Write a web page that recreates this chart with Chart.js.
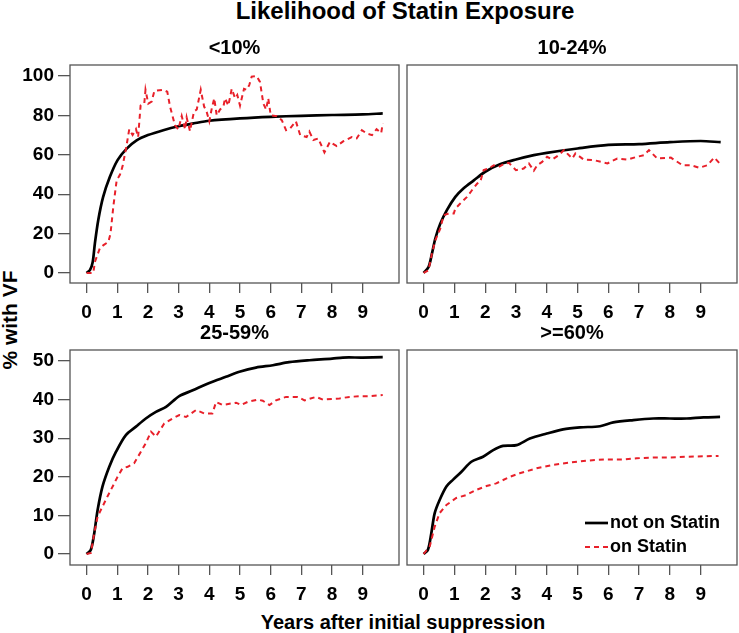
<!DOCTYPE html>
<html>
<head>
<meta charset="utf-8">
<script src="https://cdn.jsdelivr.net/npm/chart.js@4.4.1/dist/chart.umd.min.js"></script>
<style>
  html, body { margin: 0; padding: 0; background: #fff; }
  body { width: 739px; height: 633px; position: relative; overflow: hidden;
         font-family: "Liberation Sans", Arial, sans-serif; }
  canvas { position: absolute; }
  .lbl { position: absolute; font-weight: bold; color: #000; white-space: nowrap; }
</style>
</head>
<body>
<div class="lbl" id="mainTitle" style="left:405px; top:-3px; font-size:24px; line-height:27px; transform:translateX(-50%);">Likelihood of Statin Exposure</div>
<div class="lbl" id="yTitle" style="left:10px; top:320px; font-size:21px; line-height:24px; transform:translate(-50%,-50%) rotate(-90deg);">% with VF</div>
<div class="lbl" id="xTitle" style="left:403px; top:610px; font-size:20px; line-height:24px; transform:translateX(-50%);">Years after initial suppression</div>

<canvas id="p1" width="405" height="293" style="left:0; top:30px;"></canvas>
<canvas id="p2" width="339" height="293" style="left:400px; top:30px;"></canvas>
<canvas id="p3" width="405" height="285" style="left:0; top:320px;"></canvas>
<canvas id="p4" width="339" height="285" style="left:400px; top:320px;"></canvas>

<script>
// ---- data (years after suppression, % with VF) ----
const seriesNames = ['not on Statin', 'on Statin'];
const xTicks = [0, 1, 2, 3, 4, 5, 6, 7, 8, 9];
const yTicksTop = [0, 20, 40, 60, 80, 100];
const yTicksBottom = [0, 10, 20, 30, 40, 50];

// <10%
const lowNotX = [0, 0.11, 0.2, 0.27, 0.38, 0.54, 0.76, 1.01, 1.3, 1.63, 2.0, 2.5, 3.0, 3.5, 4.0, 5.0, 6.0, 7.0, 8.0, 9.0, 9.65];
const lowNotY = [0, 1.4, 5.6, 14.9, 26.8, 38.6, 48.8, 57.3, 63, 67.3, 70, 72.5, 74.5, 76, 77.3, 78.5, 79.3, 79.8, 80.2, 80.5, 81];
const lowOnX = [0, 0.22, 0.27, 0.43, 0.54, 0.71, 0.78, 0.87, 0.98, 1.09, 1.17, 1.28, 1.39, 1.5, 1.61, 1.68, 1.76, 1.88, 1.92, 2.01,
  2.12, 2.21, 2.5, 2.63, 2.72, 2.88, 2.99, 3.1, 3.21, 3.26, 3.37, 3.5, 3.59, 3.72, 3.83, 3.91, 4.0, 4.08, 4.16, 4.24,
  4.35, 4.46, 4.51, 4.62, 4.73, 4.84, 4.91, 5.0, 5.13, 5.22, 5.3, 5.38, 5.54, 5.65, 5.76, 5.85, 5.92, 6.0, 6.2, 6.36,
  6.5, 6.63, 6.82, 6.96, 7.17, 7.26, 7.39, 7.55, 7.75, 7.93, 8.15, 8.37, 8.64, 8.8, 8.97, 9.13, 9.3, 9.45, 9.6, 9.65];
const lowOnY = [0, 0, 5.6, 12.4, 14, 15.8, 20, 33.5, 47, 50, 54, 62.7, 72.9, 70, 73, 69, 85, 86, 93, 86,
  87, 92.5, 93, 92, 84.5, 75, 72.9, 79.7, 72.9, 79, 72, 82, 83, 93, 84.5, 82, 77, 83.6, 88.7, 80,
  83, 84.5, 88.7, 85, 93.5, 88.7, 90.4, 85, 93.5, 93, 95.4, 99.7, 100, 97, 86, 83, 88.7, 80, 79.6, 77.6,
  72.5, 73.4, 77, 70, 69, 71.8, 67.5, 68.3, 61.2, 66.6, 64.4, 66.9, 69, 68.3, 72.5, 70.8, 70, 73, 71, 76];

// 10-24%
const midLowNotX = [0, 0.16, 0.27, 0.38, 0.54, 0.76, 1.03, 1.3, 1.63, 2.0, 2.5, 3.0, 3.58, 4.0, 5.0, 6.0, 7.0, 8.0, 9.0, 9.65];
const midLowNotY = [0, 3, 9.8, 17.5, 25, 32, 38.6, 43, 47, 51.4, 55.3, 57.6, 59.8, 61, 63.2, 65, 65.4, 66.4, 67, 66.4];
const midLowOnX = [0, 0.16, 0.27, 0.38, 0.54, 0.65, 0.81, 0.98, 1.03, 1.19, 1.41, 1.57, 1.74, 1.84, 1.95, 2.11, 2.28, 2.44, 2.6, 2.77,
  3.0, 3.25, 3.42, 3.58, 3.69, 3.85, 4.01, 4.18, 4.39, 4.56, 4.66, 4.83, 4.93, 5.2, 5.53, 5.97, 6.29, 6.62, 6.94, 7.16,
  7.32, 7.59, 8.03, 8.41, 8.68, 8.95, 9.22, 9.44, 9.6];
const midLowOnY = [0, 1.4, 9.8, 16.6, 22.5, 29.3, 30.2, 30.2, 32.7, 35.3, 38.6, 42, 45.4, 46.3, 52.2, 53, 54.7, 53.9, 55.3, 55.9,
  52.2, 53, 55.6, 51.9, 54.7, 56.4, 59, 57.6, 59.8, 62.4, 60.7, 58.1, 60.7, 57.6, 57.3, 55.6, 58.1, 57.6, 59, 59.8,
  62.4, 58.1, 58.6, 54.7, 54.7, 53.4, 54.7, 58.6, 55.9];

// 25-59%
const midHighNotX = [0, 0.14, 0.25, 0.36, 0.52, 0.74, 0.96, 1.28, 1.61, 1.93, 2.26, 2.59, 3.02, 3.46, 4.0, 4.54, 4.98, 5.52, 6.07, 6.6, 7.26, 8.0, 8.35, 9.0, 9.65];
const midHighNotY = [0, 1.1, 5.4, 11.4, 17.5, 22.6, 26.5, 30.8, 33, 35.1, 36.8, 38.1, 40.9, 42.4, 44.3, 45.9, 47.2, 48.3, 48.9, 49.7, 50.2, 50.6, 50.9, 50.9, 51];
const midHighOnX = [0, 0.14, 0.25, 0.36, 0.52, 0.68, 0.85, 1.01, 1.17, 1.34, 1.55, 1.77, 1.93, 2.1, 2.26, 2.53, 2.8, 3.02, 3.24, 3.57,
  3.84, 4.1, 4.22, 4.43, 4.87, 5.03, 5.25, 5.58, 5.74, 5.96, 6.17, 6.5, 6.88, 7.1, 7.48, 7.7, 8.24, 8.57, 8.95, 9.2, 9.65];
const midHighOnY = [0, 0.3, 5.4, 9.7, 12.3, 14.9, 17.5, 20, 22.2, 22.6, 23.5, 26.5, 28.7, 31.7, 30.4, 33.8, 35.1, 36, 35.5, 37.3,
  36.4, 36.4, 39.4, 38.6, 39.2, 38.6, 39.4, 40, 39.7, 38.6, 39.8, 40.7, 40.7, 39.8, 40.7, 40, 40.3, 40.7, 40.9, 40.9, 41.2];

// >=60%
const highNotX = [0, 0.14, 0.25, 0.36, 0.52, 0.74, 0.95, 1.23, 1.55, 1.93, 2.26, 2.58, 3.02, 3.45, 4.0, 4.53, 5.08, 5.73, 6.16, 6.81, 7.46, 8.0, 8.55, 9.09, 9.63];
const highNotY = [0, 1.1, 5.4, 10.6, 14, 17.5, 19.2, 21.3, 23.9, 25.2, 26.9, 28, 28.2, 29.9, 31.2, 32.3, 32.8, 33.1, 34.1, 34.7, 35.1, 35.1, 35.1, 35.4, 35.5];
const highOnX = [0, 0.2, 0.36, 0.52, 0.74, 1.06, 1.39, 1.71, 2.04, 2.36, 2.8, 3.12, 3.67, 4.2, 4.75, 5.29, 5.94, 6.49, 6.92, 7.46, 8.0, 8.55, 9.58];
const highOnY = [0, 2, 7.1, 10.6, 12.7, 14.5, 15.3, 16.6, 17.6, 18.3, 20, 20.9, 22.2, 23.1, 23.7, 24.2, 24.5, 24.5, 24.8, 25, 25, 25.2, 25.4];

// ---- drawing ----
const FONT = '"Liberation Sans", Arial, sans-serif';
const AXIS_GREY = '#555555';
const RED = '#e8202a';

const pts = (xs, ys) => xs.map((x, i) => ({ x, y: ys[i] }));
const setTicks = vals => scale => { scale.ticks = vals.map(v => ({ value: v })); };

// box around each plotting region + optional legend
const framePlugin = {
  id: 'frame',
  afterDraw(chart, args, opts) {
    const { ctx, chartArea: a } = chart;
    ctx.save();
    ctx.strokeStyle = AXIS_GREY;
    ctx.lineWidth = 1.3;
    ctx.strokeRect(a.left, a.top, a.right - a.left, a.bottom - a.top);
    if (opts.legend) {
      const rows = [
        { ds: chart.data.datasets[0], dy: -42 },
        { ds: chart.data.datasets[1], dy: -18 },
      ];
      ctx.font = 'bold 18px ' + FONT;
      ctx.textBaseline = 'middle';
      for (const r of rows) {
        const y = a.bottom + r.dy;
        ctx.beginPath();
        ctx.strokeStyle = r.ds.borderColor;
        ctx.lineWidth = r.ds.borderWidth;
        ctx.setLineDash(r.ds.borderDash || []);
        ctx.moveTo(a.right - 152, y);
        ctx.lineTo(a.right - 129, y);
        ctx.stroke();
        ctx.setLineDash([]);
        ctx.fillStyle = '#000';
        ctx.fillText(r.ds.label, a.right - 127, y);
      }
    }
    ctx.restore();
  }
};

function makePanel(id, title, notX, notY, onX, onY, o) {
  new Chart(document.getElementById(id), {
    type: 'line',
    data: {
      datasets: [
        {
          label: seriesNames[0],
          data: pts(notX, notY),
          borderColor: '#000',
          borderWidth: 2.7,
          pointRadius: 0,
          tension: 0.3,
          order: 1,
        },
        {
          label: seriesNames[1],
          data: pts(onX, onY),
          borderColor: RED,
          borderWidth: 2,
          borderDash: [5, 4],
          pointRadius: 0,
          tension: 0,
          order: 0,
        },
      ],
    },
    options: {
      responsive: false,
      animation: false,
      devicePixelRatio: 1,
      layout: { padding: o.padding },
      plugins: {
        legend: { display: false },
        tooltip: { enabled: false },
        title: {
          display: true,
          text: title,
          fullSize: false,
          color: '#000',
          font: { family: FONT, size: 20, weight: 'bold', lineHeight: 1.2 },
          padding: o.titlePad,
        },
        frame: { legend: !!o.legend },
      },
      scales: {
        x: {
          type: 'linear',
          min: -0.54,
          max: 10.18,
          afterBuildTicks: setTicks(xTicks),
          afterFit: s => { s.height = 40; },
          grid: { drawOnChartArea: false, drawTicks: true, tickLength: 10, color: AXIS_GREY, lineWidth: 1.3 },
          border: { display: false },
          ticks: { color: '#000', padding: 8, maxRotation: 0, autoSkip: false,
                   font: { family: FONT, size: 19, weight: 'bold' } },
        },
        y: {
          type: 'linear',
          min: o.yMin,
          max: o.yMax,
          afterBuildTicks: setTicks(o.yTicks),
          afterFit: s => { s.width = o.yWidth; },
          grid: { drawOnChartArea: false, drawTicks: o.showY, tickLength: 12, color: AXIS_GREY, lineWidth: 1.3 },
          border: { display: false },
          ticks: { display: o.showY, color: '#000', padding: 4, autoSkip: false,
                   font: { family: FONT, size: 19, weight: 'bold' } },
        },
      },
    },
    plugins: [framePlugin],
  });
}

const topY = { yMin: -5.1, yMax: 105.6, yTicks: yTicksTop };
const botY = { yMin: -2.85, yMax: 52.85, yTicks: yTicksBottom };
const leftCol = { showY: true, yWidth: 70, padding: { left: 0, right: 6 } };
const rightCol = { showY: false, yWidth: 7, padding: { left: 0, right: 2 } };

makePanel('p1', '<10%', lowNotX, lowNotY, lowOnX, lowOnY,
  { ...topY, ...leftCol, titlePad: { top: 6, bottom: 5 } });
makePanel('p2', '10-24%', midLowNotX, midLowNotY, midLowOnX, midLowOnY,
  { ...topY, ...rightCol, titlePad: { top: 6, bottom: 5 } });
makePanel('p3', '25-59%', midHighNotX, midHighNotY, midHighOnX, midHighOnY,
  { ...botY, ...leftCol, titlePad: { top: 1, bottom: 5 } });
makePanel('p4', '>=60%', highNotX, highNotY, highOnX, highOnY,
  { ...botY, ...rightCol, titlePad: { top: 1, bottom: 5 }, legend: true });
</script>
</body>
</html>
